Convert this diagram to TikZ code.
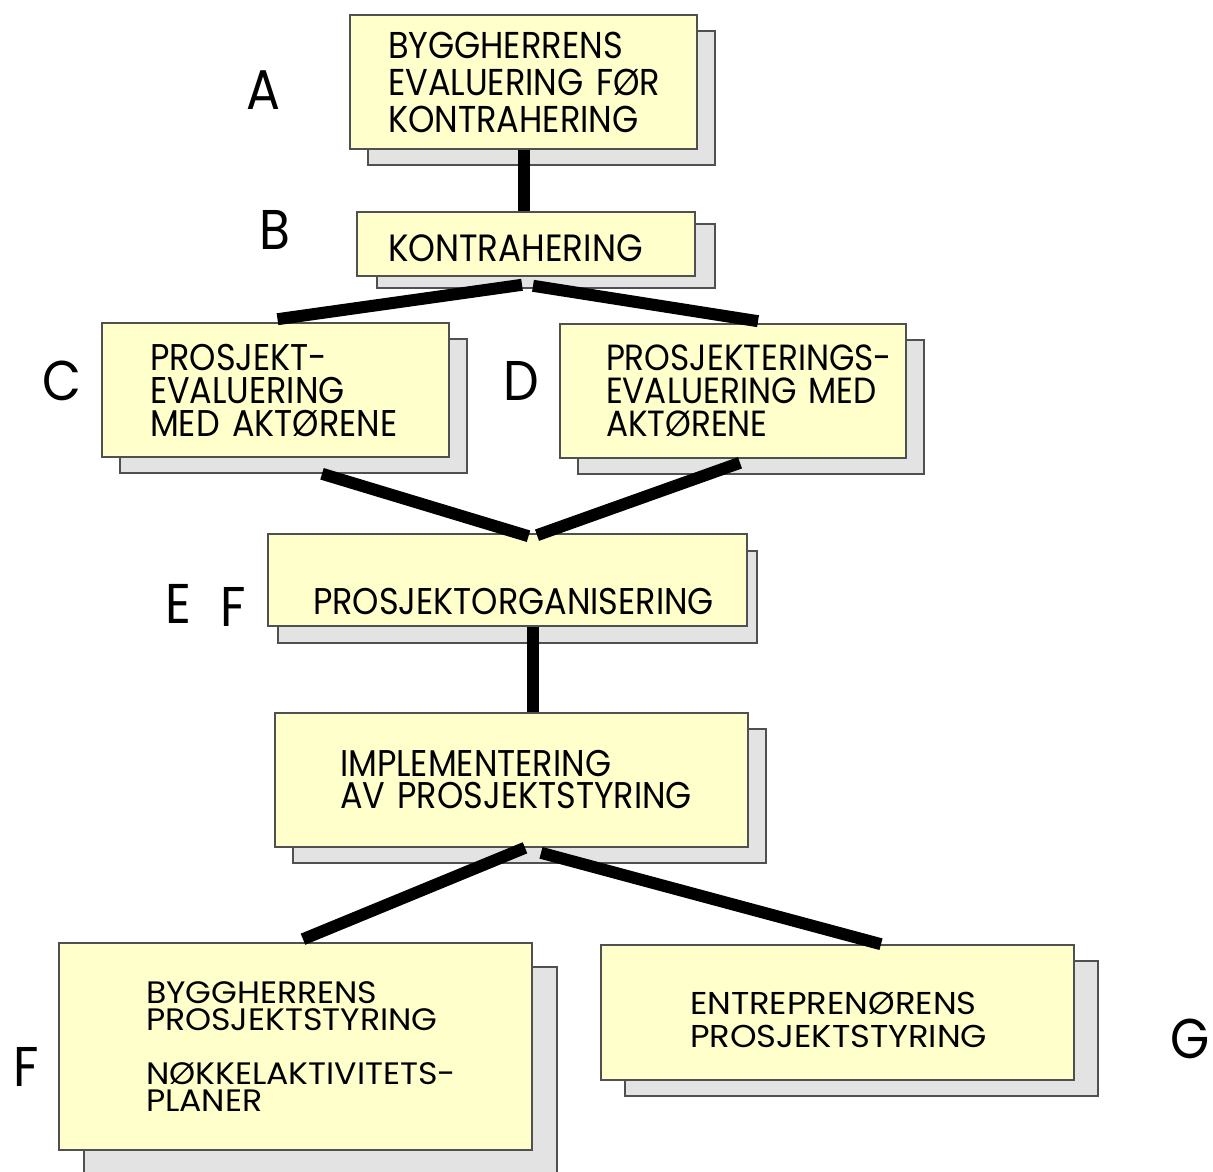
\documentclass[tikz,border=0pt]{standalone}
\usepackage{fontspec}
\setmainfont{Poppins}[FakeStretch=0.9]
\newfontfamily\widefont{Poppins}[FakeStretch=1.07]
\usetikzlibrary{shadows,calc}
\definecolor{boxfill}{HTML}{FFFFCC}
\definecolor{shadowfill}{HTML}{E3E3E3}
\definecolor{boxline}{HTML}{505050}
\hyphenpenalty=10000
\exhyphenpenalty=10000

\begin{document}
\begin{tikzpicture}[x=0.5pt, y=-0.5pt, link/.style={line width=6pt},
  stage/.style 2 args={draw=boxline, fill=boxfill, line width=0.8pt, inner sep=0pt, align=left,
    drop shadow={shadow xshift=#1, shadow yshift=#2, fill=shadowfill, draw=boxline, line width=0.8pt, opacity=1}},
  fs/.style 2 args={font=\fontsize{#1}{#2}\selectfont},
  wide/.style 2 args={font=\widefont\fontsize{#1}{#2}\selectfont},
  tag/.style={font=\fontsize{28}{28}\selectfont}]
  \useasboundingbox (0,0) rectangle (1213,1171);

  % boxes
  \node[stage={9pt}{-8pt}, minimum width=173.5pt, minimum height=67pt, text width=135.5pt, fs={18.7}{18.5}] (a) at (523.5,82) {BYGGHERRENS\\EVALUERING~FØR\\KONTRAHERING};
  \node[stage={10pt}{-6pt}, minimum width=169pt, minimum height=32pt, text width=138pt, text height=18pt, text depth=0pt, fs={19}{18}] (b) at (526,244) {KONTRAHERING};
  \node[stage={9pt}{-8pt}, minimum width=173.5pt, minimum height=67pt, text width=125.5pt, fs={18.6}{16.5}] (c) at (275.5,390) {PROSJEKT-\\EVALUERING\\MED~AKTØRENE};
  \node[stage={9pt}{-8pt}, minimum width=173pt, minimum height=67pt, text width=127pt, fs={18.2}{16.5}] (d) at (733,391) {PROSJEKTERINGS-\\EVALUERING~MED\\AKTØRENE};
  \node[stage={5pt}{-8.5pt}, minimum width=239.5pt, minimum height=46pt, text width=194.5pt, text height=34pt, text depth=0pt, fs={18.6}{16.5}] (e) at (507.5,580) {PROSJEKTORGANISERING};
  \node[stage={9pt}{-8pt}, minimum width=236.5pt, minimum height=67pt, text width=171.5pt, fs={18.6}{16}] (i) at (511.5,780) {IMPLEMENTERING\\AV~PROSJEKTSTYRING};
  \node[stage={12.5pt}{-12pt}, minimum width=236.5pt, minimum height=103.5pt, text width=149.5pt, wide={15.5}{13.5}] (f) at (295.5,1046.5) {BYGGHERRENS\\PROSJEKTSTYRING\\[13.5pt]NØKKELAKTIVITETS-\\PLANER};
  \node[stage={12pt}{-8pt}, minimum width=236.5pt, minimum height=67.5pt, text width=147.5pt, wide={15.8}{16.5}] (g) at (837.5,1012.5) {\rule{0pt}{19pt}ENTREPRENØRENS\\PROSJEKTSTYRING};

  % letters
  \node[tag] (la) at (263,90) {A};
  \node[tag] (lb) at (275,230) {B};
  \node[tag] (lc) at (62,381) {C};
  \node[tag] (ld) at (521,381) {D};
  \node[tag] (le) at (178,604) {E};
  \node[tag] (lf) at (233,607) {F};
  \node[tag] (lf2) at (26,1067) {F};
  \node[tag] (lg) at (1190,1039) {G};

  % links
  \draw[link] (a.south) -- (a.south |- b.north);
  \draw[link] ($(b.south)+(-4,8)$) -- ($(c.north)+(2,-3)$);
  \draw[link] ($(b.south)+(7,9)$) -- ($(d.north)+(25,-2)$);
  \draw[link] ($(c.south)+(46.5,16)$) -- ($(e.north)+(21,3)$);
  \draw[link] ($(d.south)+(7,4)$) -- ($(e.north)+(29.5,2)$);
  \draw[link] ($(e.south)+(25.5,0)$) -- ($(i.north)+(21.5,0)$);
  \draw[link] ($(i.south)+(13.5,0)$) -- ($(f.north)+(7.5,-3)$);
  \draw[link] ($(i.south)+(29.5,5)$) -- ($(g.north)+(43.5,0)$);
\end{tikzpicture}
\end{document}
